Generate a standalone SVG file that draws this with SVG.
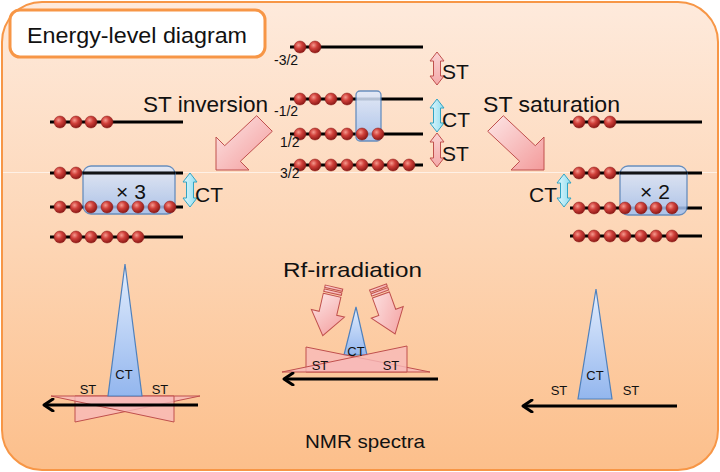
<svg xmlns="http://www.w3.org/2000/svg" xmlns:xlink="http://www.w3.org/1999/xlink" width="720" height="472" viewBox="0 0 720 472">
<defs>
<linearGradient id="bg" x1="0" y1="0" x2="0" y2="1">
<stop offset="0" stop-color="#feeadc"/><stop offset="0.5" stop-color="#fdd6b6"/><stop offset="1" stop-color="#fcbf8b"/>
</linearGradient>
<radialGradient id="ballg" cx="0.38" cy="0.35" r="0.65">
<stop offset="0" stop-color="#f59a8f"/><stop offset="0.45" stop-color="#d0403a"/><stop offset="1" stop-color="#8e1a17"/>
</radialGradient>
<linearGradient id="blueg" x1="0" y1="0" x2="0" y2="1">
<stop offset="0" stop-color="#dfeafc"/><stop offset="1" stop-color="#9fbff0"/>
</linearGradient>
<linearGradient id="peakg" x1="0" y1="0" x2="0" y2="1">
<stop offset="0" stop-color="#e4eefd"/><stop offset="1" stop-color="#93b6ee"/>
</linearGradient>
<linearGradient id="pinkg" x1="0" y1="0" x2="1" y2="1">
<stop offset="0" stop-color="#fde6e6"/><stop offset="1" stop-color="#f39b9b"/>
</linearGradient>
<linearGradient id="pinkv" x1="0" y1="0" x2="0" y2="1">
<stop offset="0" stop-color="#fbd3d3"/><stop offset="1" stop-color="#f4a9a9"/>
</linearGradient>
<linearGradient id="cyang" x1="0" y1="0" x2="1" y2="0">
<stop offset="0" stop-color="#e2f8fd"/><stop offset="1" stop-color="#8fdcef"/>
</linearGradient>
<circle id="ball" r="6" fill="url(#ballg)" stroke="#8a1c18" stroke-width="0.5"/>
<marker id="ah" markerWidth="14" markerHeight="14" refX="10" refY="7" orient="auto" markerUnits="userSpaceOnUse">
<path d="M2,1 L11,7 L2,13" fill="none" stroke="#000" stroke-width="3" stroke-linecap="round" stroke-linejoin="round"/>
</marker>
<g id="rfarrow">
<rect x="-9" y="0" width="18" height="2.5"/>
<rect x="-9" y="4" width="18" height="2.5"/>
<path d="M-9,8.5 L9,8.5 L9,27 L17,27 L0,50 L-17,27 L-9,27 Z"/>
</g>
</defs>
<style>
.t{font-family:"Liberation Sans","Open Sans",Arial,sans-serif;fill:#111}
.lv{stroke:#000;stroke-width:3;fill:none}
.box{fill:url(#blueg);stroke:#4f81bd;stroke-width:1.3;opacity:0.85}
.st{fill:url(#pinkv);stroke:#c0504d;stroke-width:1}
.ct{fill:url(#cyang);stroke:#31a4c4;stroke-width:1}
.big{fill:url(#pinkg);stroke:#c0504d;stroke-width:1}
.peak{fill:url(#peakg);stroke:#4f81bd;stroke-width:1.2}
.tri{fill:#f7b9b9;fill-opacity:0.8;stroke:#c0504d;stroke-width:1}
.ax{stroke:#000;stroke-width:3;fill:none;marker-end:url(#ah)}
</style>

<rect x="2" y="2" width="716" height="468" rx="40" ry="40" fill="url(#bg)" stroke="#f79646" stroke-width="2"/>
<line x1="3" y1="172.5" x2="717" y2="172.5" stroke="#ffffff" stroke-opacity="0.6" stroke-width="1"/>

<g id="title">
<rect x="10" y="10" width="255" height="47" rx="10" ry="10" fill="#ffffff" stroke="#f79646" stroke-width="3"/>
<text class="t" x="27" y="43" font-size="22" textLength="220" lengthAdjust="spacingAndGlyphs">Energy-level diagram</text>
</g>

<g id="levels-center">
<line class="lv" x1="290" y1="47" x2="423" y2="47"/>
<line class="lv" x1="290" y1="99" x2="423" y2="99"/>
<line class="lv" x1="290" y1="134" x2="423" y2="134"/>
<line class="lv" x1="290" y1="165" x2="423" y2="165"/>
<rect class="box" x="356" y="91" width="25" height="50" rx="4" ry="4"/>
<use xlink:href="#ball" x="300" y="47"/><use xlink:href="#ball" x="315" y="47"/>
<use xlink:href="#ball" x="300" y="99"/><use xlink:href="#ball" x="315" y="99"/><use xlink:href="#ball" x="331" y="99"/><use xlink:href="#ball" x="347" y="99"/>
<use xlink:href="#ball" x="300" y="134"/><use xlink:href="#ball" x="315" y="134"/><use xlink:href="#ball" x="331" y="134"/><use xlink:href="#ball" x="347" y="134"/><use xlink:href="#ball" x="362" y="134"/><use xlink:href="#ball" x="378" y="134"/>
<use xlink:href="#ball" x="300" y="165"/><use xlink:href="#ball" x="315" y="165"/><use xlink:href="#ball" x="331" y="165"/><use xlink:href="#ball" x="347" y="165"/><use xlink:href="#ball" x="362" y="165"/><use xlink:href="#ball" x="378" y="165"/><use xlink:href="#ball" x="393" y="165"/><use xlink:href="#ball" x="409" y="165"/>
<text class="t" x="274" y="65" font-size="14">-3/2</text>
<text class="t" x="274" y="116" font-size="14">-1/2</text>
<text class="t" x="280" y="147" font-size="14">1/2</text>
<text class="t" x="280" y="178" font-size="14">3/2</text>
<polygon class="st" points="437,52 444,61 440.5,61 440.5,76 444,76 437,85 430,76 433.5,76 433.5,61 430,61"/>
<polygon class="ct" points="437,99 444,108 440.5,108 440.5,123 444,123 437,132 430,123 433.5,123 433.5,108 430,108"/>
<polygon class="st" points="437,133 444,142 440.5,142 440.5,158 444,158 437,167 430,158 433.5,158 433.5,142 430,142"/>
<text class="t" x="442" y="79" font-size="21">ST</text>
<text class="t" x="442" y="127" font-size="21">CT</text>
<text class="t" x="442" y="161" font-size="21">ST</text>
</g>

<g id="levels-left">
<text class="t" x="143" y="112" font-size="22" textLength="125" lengthAdjust="spacingAndGlyphs">ST inversion</text>
<line class="lv" x1="50" y1="122" x2="183" y2="122"/>
<line class="lv" x1="50" y1="173" x2="183" y2="173"/>
<line class="lv" x1="50" y1="207" x2="183" y2="207"/>
<line class="lv" x1="50" y1="237" x2="183" y2="237"/>
<rect class="box" x="83" y="166" width="92" height="48" rx="8" ry="8"/>
<line class="lv" x1="83" y1="173" x2="175" y2="173" opacity="0.9"/>
<use xlink:href="#ball" x="60" y="122"/><use xlink:href="#ball" x="76" y="122"/><use xlink:href="#ball" x="91" y="122"/><use xlink:href="#ball" x="107" y="122"/>
<use xlink:href="#ball" x="60" y="173"/><use xlink:href="#ball" x="76" y="173"/>
<use xlink:href="#ball" x="60" y="207"/><use xlink:href="#ball" x="76" y="207"/><use xlink:href="#ball" x="91" y="207"/><use xlink:href="#ball" x="107" y="207"/><use xlink:href="#ball" x="123" y="207"/><use xlink:href="#ball" x="138" y="207"/><use xlink:href="#ball" x="154" y="207"/><use xlink:href="#ball" x="170" y="207"/>
<use xlink:href="#ball" x="60" y="237"/><use xlink:href="#ball" x="76" y="237"/><use xlink:href="#ball" x="91" y="237"/><use xlink:href="#ball" x="107" y="237"/><use xlink:href="#ball" x="123" y="237"/><use xlink:href="#ball" x="138" y="237"/>
<text class="t" x="131" y="199" font-size="21" text-anchor="middle">× 3</text>
<polygon class="ct" points="190,173 197,182 193.5,182 193.5,198 197,198 190,207 183,198 186.5,198 186.5,182 183,182"/>
<text class="t" x="195" y="202" font-size="21">CT</text>
</g>

<g id="levels-right">
<text class="t" x="483" y="112" font-size="22" textLength="137" lengthAdjust="spacingAndGlyphs">ST saturation</text>
<line class="lv" x1="570" y1="122" x2="702" y2="122"/>
<line class="lv" x1="570" y1="173" x2="702" y2="173"/>
<line class="lv" x1="570" y1="208" x2="702" y2="208"/>
<line class="lv" x1="570" y1="236" x2="702" y2="236"/>
<rect class="box" x="620" y="166" width="67" height="49" rx="8" ry="8"/>
<line class="lv" x1="620" y1="173" x2="687" y2="173" opacity="0.9"/>
<use xlink:href="#ball" x="579" y="122"/><use xlink:href="#ball" x="594" y="122"/><use xlink:href="#ball" x="610" y="122"/>
<use xlink:href="#ball" x="579" y="173"/><use xlink:href="#ball" x="594" y="173"/><use xlink:href="#ball" x="610" y="173"/>
<use xlink:href="#ball" x="579" y="208"/><use xlink:href="#ball" x="594" y="208"/><use xlink:href="#ball" x="610" y="208"/><use xlink:href="#ball" x="625" y="208"/><use xlink:href="#ball" x="641" y="208"/><use xlink:href="#ball" x="656" y="208"/><use xlink:href="#ball" x="672" y="208"/>
<use xlink:href="#ball" x="579" y="236"/><use xlink:href="#ball" x="594" y="236"/><use xlink:href="#ball" x="610" y="236"/><use xlink:href="#ball" x="625" y="236"/><use xlink:href="#ball" x="641" y="236"/><use xlink:href="#ball" x="656" y="236"/><use xlink:href="#ball" x="672" y="236"/>
<text class="t" x="655" y="199" font-size="21" text-anchor="middle">× 2</text>
<polygon class="ct" points="564,174 571,183 567.5,183 567.5,198 571,198 564,207 557,198 560.5,198 560.5,183 557,183"/>
<text class="t" x="529" y="202" font-size="21">CT</text>
</g>

<g id="connectors">
<polygon class="big" points="256.7,115.7 224.7,145.7 216,137 216,170 249,170 240.3,161.3 272.3,131.3"/>
<polygon class="big" points="503.3,115.7 535.3,145.7 544,137 544,170 511,170 519.7,161.3 487.7,131.3"/>
</g>

<g id="spectrum-left">
<polygon class="tri" points="75,396 75,422 200,396"/>
<polygon class="tri" points="174,396 174,422 51,396"/>
<polygon class="peak" points="125,264 142,396 108,396"/>
<text class="t" x="124" y="379" font-size="13" text-anchor="middle">CT</text>
<text class="t" x="88" y="394" font-size="13" text-anchor="middle">ST</text>
<text class="t" x="160" y="394" font-size="13" text-anchor="middle">ST</text>
<line class="ax" x1="198" y1="405" x2="45" y2="405"/>
</g>

<g id="spectrum-center">
<text class="t" x="283" y="277" font-size="21" textLength="139" lengthAdjust="spacingAndGlyphs">Rf-irradiation</text>
<use xlink:href="#rfarrow" class="big" transform="translate(334,287) rotate(13)"/>
<use xlink:href="#rfarrow" class="big" transform="translate(378,287) rotate(-20)"/>
<polygon class="peak" points="356,307 367,355 344,355"/>
<polygon class="tri" points="306,372 306,347 430,372"/>
<polygon class="tri" points="407,372 407,346 282,372"/>
<text class="t" x="356" y="356" font-size="13" text-anchor="middle">CT</text>
<text class="t" x="320" y="370" font-size="13" text-anchor="middle">ST</text>
<text class="t" x="391" y="370" font-size="13" text-anchor="middle">ST</text>
<line class="ax" x1="438" y1="379" x2="285" y2="379"/>
</g>

<g id="spectrum-right">
<polygon class="peak" points="596,289 612,399 578,399"/>
<text class="t" x="595" y="380" font-size="13" text-anchor="middle">CT</text>
<text class="t" x="559" y="395" font-size="13" text-anchor="middle">ST</text>
<text class="t" x="631" y="395" font-size="13" text-anchor="middle">ST</text>
<line class="ax" x1="677" y1="406" x2="524" y2="406"/>
</g>

<text class="t" x="305" y="448" font-size="19" textLength="120" lengthAdjust="spacingAndGlyphs">NMR spectra</text>
</svg>
